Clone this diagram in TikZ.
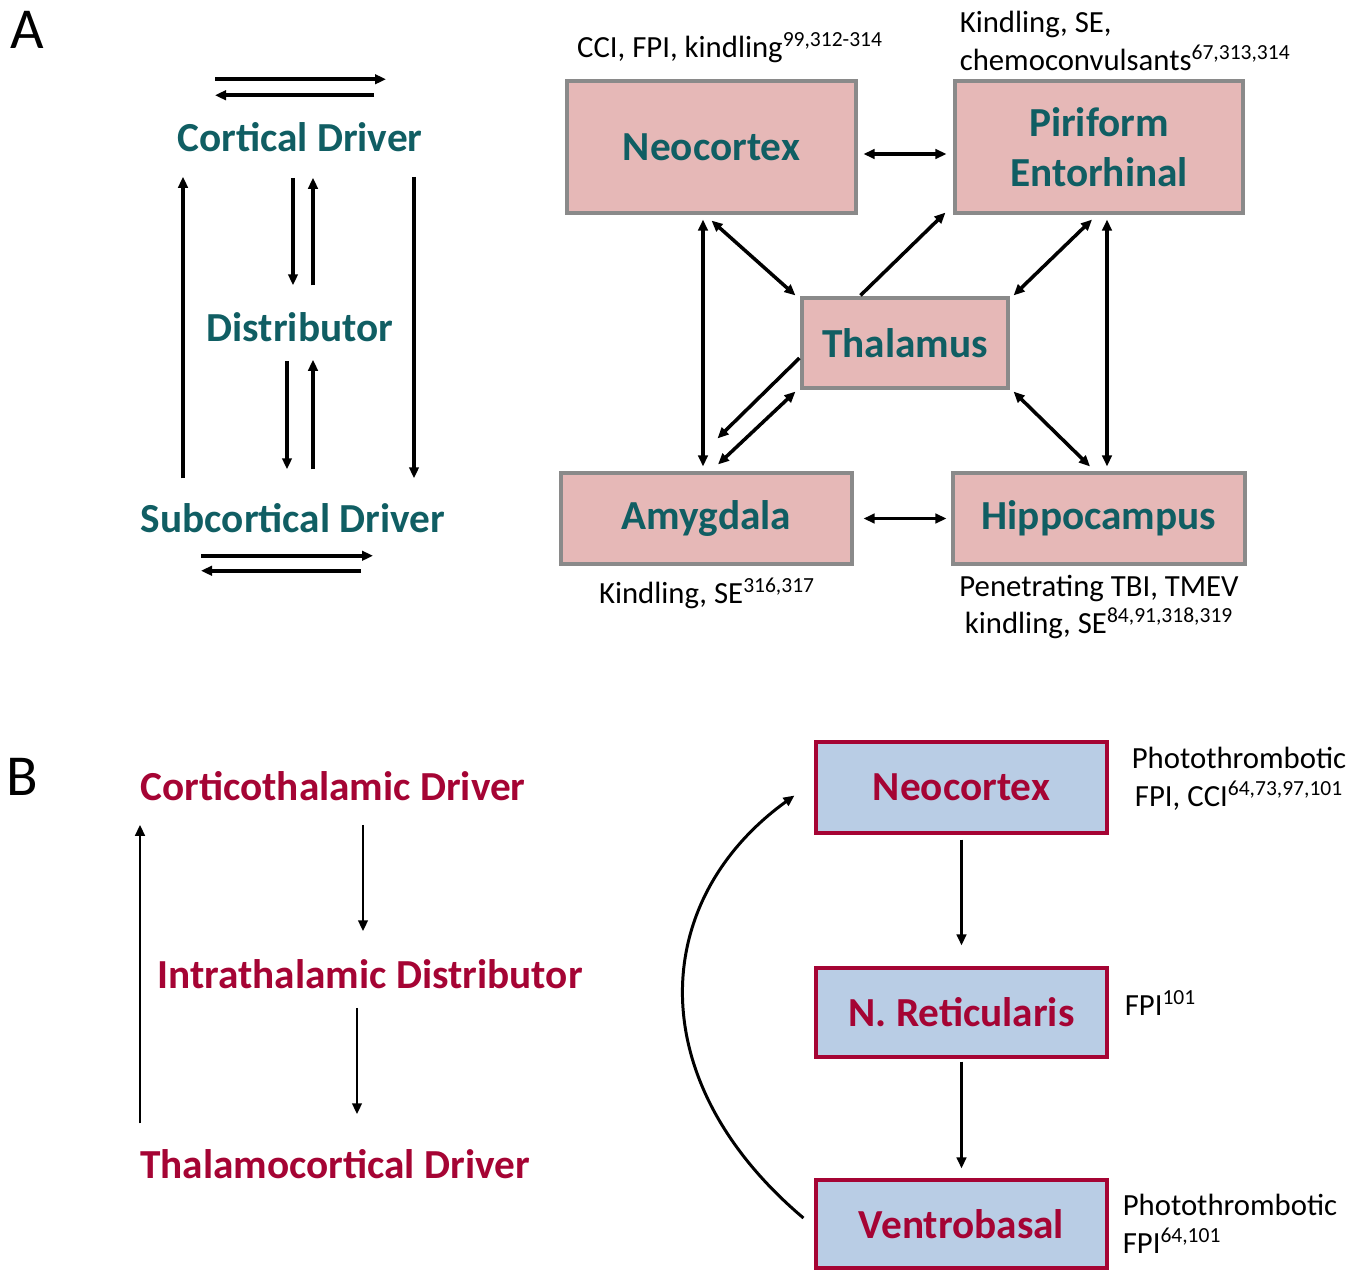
\documentclass[tikz,border=0pt]{standalone}
\usepackage{fontspec}
\setmainfont{Carlito}
\usetikzlibrary{arrows.meta,calc}

\definecolor{tealtext}{RGB}{16,94,99}
\definecolor{crimson}{RGB}{165,4,52}
\definecolor{boxpink}{RGB}{230,184,183}
\definecolor{boxblue}{RGB}{185,205,229}
\definecolor{boxgray}{RGB}{138,138,138}

\newcommand{\refnum}[1]{\textsuperscript{#1}}

\tikzset{
  panel/.style={font=\fontsize{33}{40}\selectfont, inner sep=0pt},
  level/.style={font=\bfseries\fontsize{23.5}{28}\selectfont, inner sep=0pt, minimum height=1.52cm},
  boxA/.style={draw=boxgray, fill=boxpink, line width=1.8pt, text=tealtext, align=center,
    font=\bfseries\fontsize{23.5}{28.3}\selectfont, inner sep=0pt},
  boxB/.style={draw=crimson, fill=boxblue, line width=1.8pt, text=crimson,
    font=\bfseries\fontsize{23.5}{28}\selectfont, inner sep=0pt, minimum width=5.82cm},
  note/.style={font=\fontsize{17.5}{21.5}\selectfont, inner sep=0pt},
}

\begin{document}
\begin{tikzpicture}[x=0.02cm,y=-0.02cm,>={Triangle[length=0.22cm,width=0.19cm]},line width=2pt]
  \useasboundingbox (0,0) rectangle (1368,1271);

  % panel A, left: levels
  \node[panel] (lblA) at (27,30) {A};
  \node[level,text=tealtext] (cd) at (300,137) {Cortical Driver};
  \node[level,text=tealtext] (dist) at (300,327) {Distributor};
  \node[level,text=tealtext] (sd) at (293,518) {Subcortical Driver};

  \draw[->] ($(cd.north)+(-85,-18)$) -- ($(cd.north)+(86,-18)$);
  \draw[->] ($(cd.north)+(74,-2)$) -- ($(cd.north)+(-85,-2)$);
  \draw[->] ($(sd.north)+(-110,0)$) -- ($(cd.south)+(-117,0)$);
  \draw[->] ($(cd.south)+(114,0)$) -- ($(sd.north)+(121,0)$);
  \draw[->] ($(cd.south)+(-7,1)$) -- ($(dist.north)+(-7,-2)$);
  \draw[->] ($(dist.north)+(13,-2)$) -- ($(cd.south)+(13,1)$);
  \draw[->] ($(dist.south)+(-13,-6)$) -- ($(sd.north)+(-6,-9)$);
  \draw[->] ($(sd.north)+(20,-9)$) -- ($(dist.south)+(13,-7)$);
  \draw[->] ($(sd.south)+(-92,-2)$) -- ($(sd.south)+(80,-2)$);
  \draw[->] ($(sd.south)+(68,13)$) -- ($(sd.south)+(-92,13)$);

  % panel A, right: regions
  \node[boxA,minimum width=5.78cm,minimum height=2.64cm] (neoA) at (711.5,147) {Neocortex};
  \node[boxA,minimum width=5.76cm,minimum height=2.64cm] (pir) at (1099,147) {Piriform\\Entorhinal};
  \node[boxA,minimum width=4.12cm,minimum height=1.8cm] (thal) at (905,343) {Thalamus};
  \node[boxA,minimum width=5.82cm,minimum height=1.82cm] (amy) at (706.5,518.5) {Amygdala};
  \node[boxA,minimum width=5.84cm,minimum height=1.82cm] (hip) at (1099,518.5) {Hippocampus};

  \draw[<->] ($(neoA.east)+(6,7)$) -- ($(pir.west)+(-7,7)$);
  \draw[<->] ($(amy.east)+(10,0)$) -- ($(hip.west)+(-5,0)$);
  \draw[<->] ($(neoA.south)+(-8.5,5)$) -- ($(amy.north)+(-3.5,-5)$);
  \draw[<->] ($(neoA.south)+(0,6)$) -- ($(thal.north west)+(-5,-1)$);
  \draw[->] ($(thal.north west)+(60,-1)$) -- ($(pir.south west)+(-8,-2)$);
  \draw[<->] ($(pir.south)+(-7,5)$) -- ($(thal.north east)+(4,-1)$);
  \draw[<->] ($(pir.south)+(8,5)$) -- ($(hip.north)+(8,-5)$);
  \draw[->] ($(thal.west)+(-1,15)$) -- ($(amy.north)+(11,-33)$);
  \draw[<->] ($(thal.south west)+(-5,2)$) -- ($(amy.north)+(11.5,-7)$);
  \draw[<->] ($(thal.south east)+(4,2)$) -- ($(hip.north)+(-9,-5)$);

  \node[note] (nNeoA) at (730,48) {CCI, FPI, kindling\refnum{99,312-314}};
  \node[note,anchor=west,align=left] (nPir) at (958,41) {Kindling, SE,\\chemoconvulsants\refnum{67,313,314}};
  \node[note] (nAmy) at (707,593) {Kindling, SE\refnum{316,317}};
  \node[note,align=center] (nHip) at (1099,607) {Penetrating TBI, TMEV\\kindling, SE\refnum{84,91,318,319}};

  % panel B, left: levels
  \node[panel] (lblB) at (22,777) {B};
  \node[level,text=crimson] (ctd) at (333,786) {Corticothalamic Driver};
  \node[level,text=crimson] (itd) at (370,974) {Intrathalamic Distributor};
  \node[level,text=crimson] (tcd) at (335,1164) {Thalamocortical Driver};

  \draw[->,line width=1.5pt] ($(tcd.north)+(-195,-1)$) -- ($(ctd.south)+(-193,-1)$);
  \draw[->,line width=1.5pt] ($(ctd.south)+(30,-1)$) -- ($(itd.north)+(-7,-3)$);
  \draw[->,line width=1.5pt] ($(itd.south)+(-13,-6)$) -- ($(tcd.north)+(22,-10)$);

  % panel B, right: circuit
  \node[boxB,minimum height=1.82cm] (neoB) at (961.5,787.5) {Neocortex};
  \node[boxB,minimum height=1.78cm] (nrt) at (961.5,1012.5) {N. Reticularis};
  \node[boxB,minimum height=1.76cm] (vb) at (961.5,1224) {Ventrobasal};

  \draw[->,line width=1.7pt] ($(neoB.south)+(0,5)$) -- ($(nrt.north)+(0,-21)$);
  \draw[->,line width=1.7pt] ($(nrt.south)+(0,3)$) -- ($(vb.north)+(0,-10)$);
  \draw[->,line width=1.7pt] ($(vb.west)+(-11,-6)$) .. controls (640,1080) and (650,900) .. ($(neoB.west)+(-20,8)$);

  \node[note,align=center] (nNeoB) at (1239,779) {Photothrombotic\\FPI, CCI\refnum{64,73,97,101}};
  \node[note,anchor=west] (nNrt) at (1123,1003) {FPI\refnum{101}};
  \node[note,anchor=west,align=left] (nVb) at (1121,1224) {Photothrombotic\\FPI\refnum{64,101}};
\end{tikzpicture}
\end{document}
